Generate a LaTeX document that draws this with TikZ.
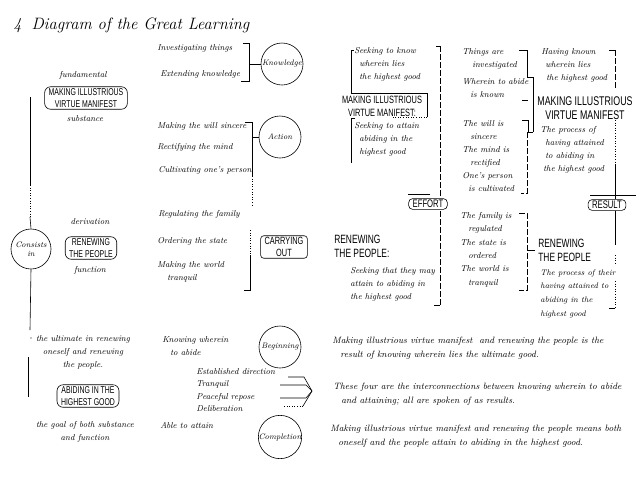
\documentclass[tikz,border=0pt]{standalone}
\usepackage{fontspec}
\newfontfamily\capsf[FakeStretch=0.7]{Liberation Sans}
\newcommand\itf{\fontsize{8.6}{13}\selectfont\itshape}
\begin{document}
\begin{tikzpicture}[x=1pt,y=-1pt,line width=0.6pt,
 it/.style={inner sep=0pt,anchor=north west,align=left,font=\itf},
 itc/.style={inner sep=0pt,align=center,font=\itf},
 para/.style={inner sep=0pt,anchor=north west,align=left,font=\fontsize{9.2}{14}\selectfont\itshape},
 capt/.style={inner sep=0pt,align=left,font=\capsf\fontsize{10.6}{13}\selectfont},
 capbox/.style={draw,rounded corners=6pt,align=center,inner xsep=4pt,inner ysep=2pt,font=\capsf\fontsize{9.9}{11.5}\selectfont},
 smallbox/.style={draw,rounded corners=4pt,align=center,inner xsep=4pt,inner ysep=1.5pt,font=\capsf\fontsize{11}{12}\selectfont},
 circ/.style={draw,circle,minimum size=42pt,inner sep=0pt,align=center,font=\fontsize{8}{9}\selectfont\itshape},
 dl/.style={dash pattern=on 6pt off 2pt}]
\path[use as bounding box,fill=white] (0,0) rectangle (640,480);
% title
\node[anchor=west,inner sep=0pt,font=\fontsize{16.5}{19}\selectfont\itshape] (title) at (13,25) {4\hspace{10pt}Diagram of the Great Learning};
% left column
\node[itc] (fund) at (83,75) {fundamental};
\node[capbox] (mk1) at (86,98) {MAKING ILLUSTRIOUS\\VIRTUE MANIFEST};
\node[itc] (subs) at (85,119) {substance};
\node[circ,minimum size=40pt] (cons) at (31,249) {Consists\\in};
\node[itc] (deriv) at (90,222) {derivation};
\node[capbox] (rn1) at (91,248) {RENEWING\\THE PEOPLE};
\node[itc] (func) at (90,270) {function};
\node[itc] (ult) at (83,352) {the ultimate in renewing\\oneself and renewing\\the people.};
\node[capbox] (ab) at (88,396) {ABIDING IN THE\\HIGHEST GOOD};
\node[itc] (goal) at (85,432) {the goal of both substance\\and function};
\coordinate (la) at (30,97); \coordinate (lb) at (30,185); \coordinate (lc) at (30,217);
\coordinate (ld) at (30,330); \coordinate (le) at (28,357); \coordinate (lf) at (28,397);
\draw (la) -- (lb);
\draw[dotted] (lb) -- (lc);
\draw (lc) -- (cons.north);
\draw (cons.south) -- (ld);
\draw (le) -- (lf);
\fill (31,338) circle (0.7);
% middle column
\node[it] (inv) at (157,44) {Investigating things};
\node[it] (ext) at (160,70) {Extending knowledge};
\node[circ] (know) at (282,64) {Knowledge};
\coordinate (kb1) at (243,43); \coordinate (kb2) at (249,43); \coordinate (kb3) at (249,81); \coordinate (kb4) at (241,81); \coordinate (kbm) at (249,64);
\draw (kb1) -- (kb2) -- (kb3) -- (kb4);
\draw (kbm) -- (know.west);
\node[it] (will) at (157,122) {Making the will sincere};
\node[it] (rect) at (157,143) {Rectifying the mind};
\node[it] (cult) at (158,166) {Cultivating one's person};
\node[circ] (act) at (280,137) {Action};
\coordinate (ab1) at (245,122); \coordinate (ab2) at (252,122); \coordinate (ab3) at (252,176); \coordinate (ab4) at (252,207); \coordinate (abm) at (252,137);
\draw (ab1) -- (ab2) -- (ab3);
\draw[dotted] (ab3) -- (ab4);
\draw (abm) -- (act.west);
\node[it] (fam) at (158,210) {Regulating the family};
\node[it] (ord) at (157,237) {Ordering the state};
\node[it] (world) at (157,261) {Making the world\\\hspace*{10pt}tranquil};
\node[smallbox,rounded corners=3pt,font=\capsf\fontsize{10.5}{12}\selectfont] (carry) at (284,247) {CARRYING\\OUT};
\coordinate (cb1) at (250,230); \coordinate (cb2) at (250,255); \coordinate (cb3) at (250,290); \coordinate (cb4) at (244,290);
\draw[dotted] (cb1) -- (cb2);
\draw (cb2) -- (cb3) -- (cb4);
\node[it] (kw) at (162,336) {Knowing wherein\\\hspace*{8pt}to abide};
\node[circ] (beg) at (280,347) {Beginning};
\node[it,font=\fontsize{8.6}{12.5}\selectfont\itshape] (four) at (196,368) {Established direction\\Tranquil\\Peaceful repose\\Deliberation};
\node[circ] (comp) at (280,437) {Completion};
\node[it] (able) at (160,422) {Able to attain};
\coordinate (tip) at (312,391);
\coordinate (e1) at (288,377); \coordinate (e1b) at (304,377);
\coordinate (e2) at (280,385); \coordinate (e2b) at (306,385);
\coordinate (e3) at (280,398); \coordinate (e3b) at (306,398);
\coordinate (e4) at (284,406); \coordinate (e4b) at (303,406);
\draw (e1) -- (e1b) -- (tip);
\draw (e2) -- (e2b) -- (tip);
\draw (e3) -- (e3b) -- (tip);
\draw[dotted] (e4) -- (e4b);
\draw (e4b) -- (tip);
% right half, effort side
\node[it] (sk1) at (354,47) {Seeking to know\\\hspace*{5pt}wherein lies\\\hspace*{5pt}the highest good};
\node[capt,align=center] (mk2) at (382,106) {MAKING ILLUSTRIOUS\\VIRTUE MANIFEST:};
\node[it] (sk2) at (354,122) {Seeking to attain\\\hspace*{5pt}abiding in the\\\hspace*{5pt}highest good};
\coordinate (m1) at (354,50); \coordinate (m2) at (351,50); \coordinate (m3) at (351,93); \coordinate (m4) at (427,93); \coordinate (m5) at (427,117); \coordinate (m6) at (392,117);
\coordinate (m7) at (355,118); \coordinate (m8) at (351,118); \coordinate (m9) at (351,163);
\draw (m1) -- (m2) -- (m3) -- (m4) -- (m5);
\draw[dotted] (m5) -- (m6);
\draw (m7) -- (m8) -- (m9);
\node[capt,anchor=north west,font=\capsf\fontsize{12}{14}\selectfont] (rn2) at (334,235) {RENEWING\\THE PEOPLE:};
\node[it] (sk3) at (350,267) {Seeking that they may\\attain to abiding in\\the highest good};
\node[smallbox] (effort) at (428,204) {EFFORT};
\coordinate (v0) at (436,46); \coordinate (v1) at (440,46); \coordinate (v2) at (440,197);
\coordinate (v3) at (440,211); \coordinate (v4) at (440,305); \coordinate (v5) at (434,305);
\coordinate (h1) at (408,194); \coordinate (h2) at (430,194);
\draw (v0) -- (v1);
\draw[dl] (v1) -- (v2);
\draw[dl] (v3) -- (v4);
\draw (v4) -- (v5);
\draw (h1) -- (h2);
% column 3
\node[it] (c3a) at (462,48) {Things are\\\hspace*{10pt}investigated};
\node[it] (c3b) at (462,78) {Wherein to abide\\\hspace*{8pt}is known};
\node[it,font=\fontsize{8.6}{13.1}\selectfont\itshape] (c3c) at (462,120) {The will is\\\hspace*{8pt}sincere\\The mind is\\\hspace*{8pt}rectified\\One's person\\\hspace*{6pt}is cultivated};
\node[it,font=\fontsize{8.6}{13.4}\selectfont\itshape] (c3d) at (460,212) {The family is\\\hspace*{8pt}regulated\\The state is\\\hspace*{8pt}ordered\\The world is\\\hspace*{8pt}tranquil};
\coordinate (r1) at (519,50); \coordinate (r2) at (527,50); \coordinate (r3) at (527,77); \coordinate (r4) at (533,77); \coordinate (r5) at (533,132);
\coordinate (r6) at (522,100); \coordinate (r7) at (528,100);
\coordinate (r8) at (522,120); \coordinate (r9) at (528,120); \coordinate (r10) at (528,132);
\coordinate (r11) at (527,132); \coordinate (r12) at (527,193); \coordinate (r13) at (521,193);
\draw (r1) -- (r2) -- (r3) -- (r4) -- (r5);
\draw (r6) -- (r7);
\draw (r8) -- (r9) -- (r10) -- (r5);
\draw[dl] (r11) -- (r12) -- (r13);
\coordinate (s1) at (519,213); \coordinate (s2) at (527,213); \coordinate (s3) at (527,290); \coordinate (s4) at (519,290);
\coordinate (s5) at (527,250); \coordinate (s6) at (535,250);
\draw[dl] (s1) -- (s2) -- (s3) -- (s4);
\draw (s5) -- (s6);
% column 4
\node[it] (c4a) at (541,48) {Having known\\\hspace*{4pt}wherein lies\\\hspace*{5pt}the highest good};
\node[capt,align=center,font=\capsf\fontsize{12.6}{14}\selectfont] (mk3) at (585,108) {MAKING ILLUSTRIOUS\\VIRTUE MANIFEST};
\node[it] (c4b) at (540,126) {The process of\\\hspace*{5pt}having attained\\\hspace*{5pt}to abiding in\\\hspace*{3pt}the highest good};
\node[smallbox] (result) at (607,205) {RESULT};
\coordinate (t1) at (609,50); \coordinate (t2) at (615,50); \coordinate (t3) at (615,88);
\coordinate (t4) at (615,120); \coordinate (t5) at (615,165); \coordinate (t6) at (590,195); \coordinate (t7) at (636,195);
\coordinate (t8) at (615,245); \coordinate (t8b) at (615,255); \coordinate (t8c) at (615,264);
\coordinate (t8d) at (615,281); \coordinate (t9) at (615,308); \coordinate (t10) at (609,308);
\draw (t1) -- (t2);
\draw[dl] (t2) -- (t3);
\draw[dotted] (t4) -- (t5);
\draw (t5) -- (result.north -| t5);
\draw (t6) -- (t7);
\draw (result.south -| t8) -- (t8);
\draw[dotted] (t8b) -- (t8c);
\draw[dotted] (t8d) -- (t9);
\draw (t9) -- (t10);
\node[capt,anchor=north west,font=\capsf\fontsize{12}{14}\selectfont] (rn3) at (538,239) {RENEWING\\THE PEOPLE};
\node[it,font=\fontsize{8.1}{13.7}\selectfont\itshape] (c4c) at (540,269) {The process of their\\having attained to\\abiding in the\\highest good};
% bottom paragraphs
\node[para] (p1) at (332,337) {Making illustrious virtue manifest\ \ and renewing the people is the\\\hspace*{8pt}result of knowing wherein lies the ultimate good.};
\node[para] (p2) at (333,383) {These four are the interconnections between knowing wherein to abide\\\hspace*{8pt}and attaining; all are spoken of as results.};
\node[para] (p3) at (330,425) {Making illustrious virtue manifest and renewing the people means both\\\hspace*{8pt}oneself and the people attain to abiding in the highest good.};
\end{tikzpicture}
\end{document}
